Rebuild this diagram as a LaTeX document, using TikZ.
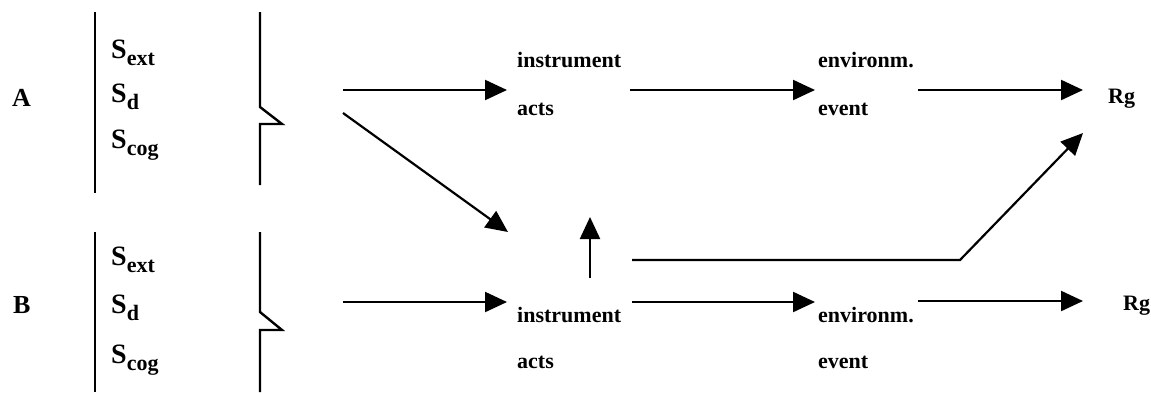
\documentclass[tikz,border=0pt]{standalone}
\usepackage{fontspec}
\setmainfont{Liberation Serif}
\usetikzlibrary{arrows.meta}
\begin{document}
\begin{tikzpicture}[x=1pt,y=-1pt,
  lbl/.style={font=\fontsize{22}{24}\selectfont\bfseries, inner sep=0pt, anchor=base west},
  grp/.style={font=\fontsize{26}{28}\selectfont\bfseries, inner sep=0pt, anchor=base west},
  svar/.style={font=\fontsize{28}{30}\selectfont\bfseries, inner sep=0pt, anchor=base west},
  bar/.style={line width=1.8pt},
  brace/.style={line width=2.4pt, line join=miter},
  flow/.style={line width=2.2pt, -{Triangle[length=22pt,width=20pt]}},
  link/.style={line width=2pt}
]
\useasboundingbox (0,0) rectangle (1151,392);
\newcommand{\sv}[1]{S\raisebox{-7pt}{\fontsize{22}{23}\selectfont #1}}

% ---- group A ----
\node[grp] (A) at (12,106) {A};
\draw[bar] (95,12) -- (95,193);
\node[svar] (Aext) at (111,58) {\sv{ext}};
\node[svar] (Ad) at (111,102) {\sv{d}};
\node[svar] (Acog) at (111,148) {\sv{cog}};
\draw[brace] (260,12) -- (260,107) -- (282,124) -- (260,124) -- (260,185);

% ---- group B ----
\node[grp] (B) at (13,313) {B};
\draw[bar] (95,232) -- (95,392);
\node[svar] (Bext) at (111,265) {\sv{ext}};
\node[svar] (Bd) at (111,313) {\sv{d}};
\node[svar] (Bcog) at (111,363) {\sv{cog}};
\draw[brace] (260,232) -- (260,312) -- (282,330) -- (260,330) -- (260,392);

% ---- labels, row A ----
\node[lbl] (Ainst) at (517,67) {instrument};
\node[lbl] (Aacts) at (517,115) {acts};
\node[lbl] (Aenv) at (818,67) {environm.};
\node[lbl] (Aevt) at (818,115) {event};
\node[lbl] (ARg) at (1108,103) {Rg};

% ---- labels, row B ----
\node[lbl] (Binst) at (517,322) {instrument};
\node[lbl] (Bacts) at (517,368) {acts};
\node[lbl] (Benv) at (818,322) {environm.};
\node[lbl] (Bevt) at (818,368) {event};
\node[lbl] (BRg) at (1123,310) {Rg};

% ---- connector end points ----
\coordinate (a0) at (343,90);
\coordinate (a1) at (507,90);
\coordinate (a2) at (630,90);
\coordinate (a3) at (815,90);
\coordinate (a4) at (918,90);
\coordinate (a5) at (1083,90);
\coordinate (d0) at (343,113);
\coordinate (d1) at (508,232);
\coordinate (u0) at (590,278);
\coordinate (u1) at (590,217);
\coordinate (c0) at (632,260);
\coordinate (c1) at (960,260);
\coordinate (c2) at (1083,133);
\coordinate (b0) at (343,302);
\coordinate (b1) at (507,302);
\coordinate (b2) at (632,302);
\coordinate (b3) at (815,302);
\coordinate (b4) at (918,301);
\coordinate (b5) at (1083,301);

% ---- connectors ----
\draw[flow] (a0) -- (a1);
\draw[flow] (a2) -- (a3);
\draw[flow] (a4) -- (a5);
\draw[flow] (d0) -- (d1);
\draw[flow] (u0) -- (u1);
\draw[flow] (c0) -- (c1) -- (c2);
\draw[flow] (b0) -- (b1);
\draw[flow] (b2) -- (b3);
\draw[flow] (b4) -- (b5);
\end{tikzpicture}
\end{document}
